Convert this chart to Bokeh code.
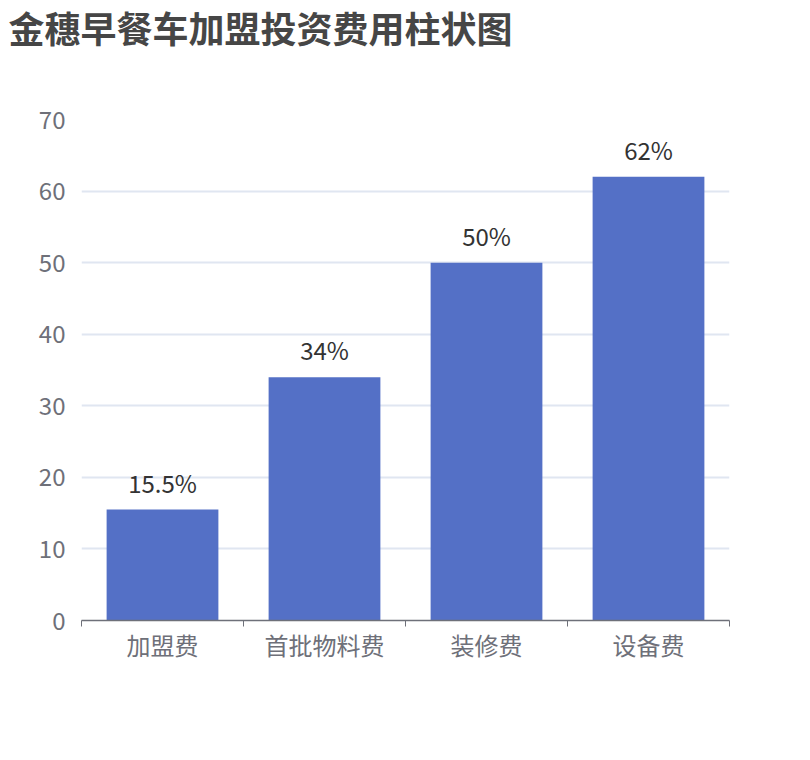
from bokeh.plotting import figure
from bokeh.models import ColumnDataSource, FixedTicker, Range1d, LinearAxis
from bokeh.core.properties import value
from bokeh.embed import file_html
from bokeh.resources import INLINE

title_text = "金穗早餐车加盟投资费用柱状图"
categories = ["加盟费", "首批物料费", "装修费", "设备费"]
values = [15.5, 34, 50, 62]
y_ticks = [0, 10, 20, 30, 40, 50, 60, 70]

FONT = "Noto Sans CJK SC"
xs = [i + 0.5 for i in range(len(categories))]
labels = [f"{v:g}%" for v in values]
src = ColumnDataSource(dict(x=xs, top=values, label=labels, cat=categories))

p = figure(width=794, height=744, output_backend="svg", toolbar_location=None,
           x_range=Range1d(0, len(categories)), y_range=Range1d(0, 70),
           min_border_left=81, min_border_right=65, min_border_bottom=124,
           min_border_top=0)
p.outline_line_color = None
p.background_fill_color = "white"

# invisible spacer axis between the title and the plot frame
spacer = LinearAxis(ticker=FixedTicker(ticks=[0]), axis_line_color=None,
                    major_tick_line_color=None, minor_tick_line_color=None,
                    major_tick_out=65, major_tick_in=0, minor_tick_out=0,
                    major_label_overrides={0: ""}, major_label_standoff=0,
                    major_label_text_font_size="1px")
p.add_layout(spacer, "above")

p.title.text = title_text
p.title.text_font = FONT
p.title.text_font_size = "36px"
p.title.text_font_style = "bold"
p.title.text_color = "#464646"
p.title.align = "left"
p.title.offset = -73
p.title.standoff = 0
p.title.vertical_align = "top"

p.vbar(x="x", top="top", width=0.69, bottom=0, source=src,
       fill_color="#5470c6", line_color=None)
p.text(x="x", y="top", text="label", source=src, text_align="center",
       text_baseline="bottom", y_offset=-10, text_font=value(FONT),
       text_font_size="24px", text_color="#333333")

# y axis
p.yaxis.ticker = FixedTicker(ticks=y_ticks)
p.yaxis.axis_line_color = None
p.yaxis.major_tick_line_color = None
p.yaxis.minor_tick_line_color = None
p.yaxis.major_label_text_font = FONT
p.yaxis.major_label_text_font_size = "24px"
p.yaxis.major_label_text_color = "#6e7079"
p.yaxis.major_label_standoff = 10

# x axis (bottom)
xaxis = p.below[0]
xaxis.ticker = FixedTicker(ticks=xs, minor_ticks=list(range(len(categories) + 1)))
xaxis.major_label_overrides = {x: c for x, c in zip(xs, categories)}
xaxis.axis_line_color = "#6e7079"
xaxis.axis_line_width = 1.5
xaxis.major_tick_line_color = None
xaxis.minor_tick_line_color = "#6e7079"
xaxis.minor_tick_out = 6
xaxis.minor_tick_in = 0
xaxis.major_label_text_font = FONT
xaxis.major_label_text_font_size = "24px"
xaxis.major_label_text_color = "#6e7079"
xaxis.major_label_standoff = 0

p.xgrid.grid_line_color = None
p.ygrid.ticker = FixedTicker(ticks=y_ticks)
p.ygrid.grid_line_color = "#e0e6f1"
p.ygrid.grid_line_width = 1.8

open("out.html", "w").write(file_html(p, INLINE))
